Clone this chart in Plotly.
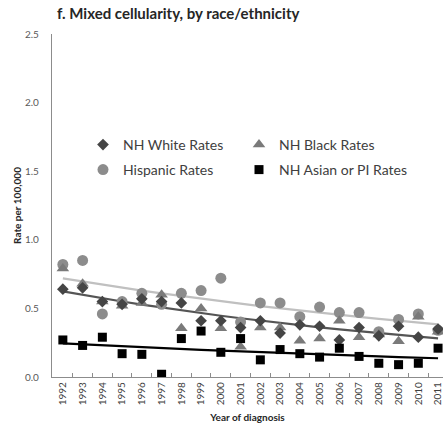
import numpy as np
import plotly.graph_objects as go

years = [str(y) for y in range(1992, 2012)]

white_rates = [0.64, 0.65, 0.55, 0.53, 0.57, 0.55, 0.54, 0.41, 0.41, 0.36,
               0.41, 0.32, 0.38, 0.37, 0.27, 0.36, 0.30, 0.37, 0.29, 0.35]
black_rates = [0.79, 0.68, 0.55, 0.52, 0.54, 0.60, 0.355, 0.50, 0.355, 0.22,
               0.36, 0.36, 0.265, 0.28, 0.41, 0.29, 0.31, 0.26, 0.44, 0.33]
hispanic_rates = [0.82, 0.85, 0.46, 0.55, 0.61, 0.53, 0.61, 0.63, 0.72, 0.40,
                  0.54, 0.54, 0.44, 0.51, 0.47, 0.47, 0.33, 0.42, 0.46, 0.34]
asian_rates = [0.27, 0.23, 0.29, 0.17, 0.165, 0.02, 0.28, 0.335, 0.18, 0.28,
               0.125, 0.20, 0.17, 0.145, 0.21, 0.15, 0.10, 0.09, 0.10, 0.21]


def loglinear_trend(values, n_iter=60):
    """Log-linear (Poisson-type) trend fitted to a rate series by IRLS."""
    y = np.asarray(values, dtype=float)
    x = np.arange(len(y), dtype=float)
    X = np.column_stack([np.ones_like(x), x])
    beta = np.array([np.log(y.mean()), 0.0])
    for _ in range(n_iter):
        eta = X @ beta
        mu = np.exp(eta)
        z = eta + (y - mu) / mu
        W = mu
        beta = np.linalg.solve(X.T @ (W[:, None] * X), X.T @ (W * z))
    return np.exp(X @ beta)


fig = go.Figure()

font_family = "Lato, 'Open Sans', sans-serif"

# fitted trend lines
trend_specs = [
    (hispanic_rates, "#c0c0c0"),
    (white_rates, "#555555"),
    (asian_rates, "#000000"),
]
for vals, col in trend_specs:
    fig.add_trace(go.Scatter(
        x=years, y=loglinear_trend(vals), mode="lines",
        line=dict(color=col, width=2.2), showlegend=False, hoverinfo="skip",
    ))

# (name, values, symbol, colour, size, legend box)
series = [
    ("Hispanic Rates", hispanic_rates, "circle", "#8c8c8c", 11, "legend3"),
    ("NH Black Rates", black_rates, "triangle-up", "#7a7a7a", 11, "legend2"),
    ("NH White Rates", white_rates, "diamond", "#454545", 9, "legend"),
    ("NH Asian or PI Rates", asian_rates, "square", "#000000", 9, "legend4"),
]
for name, vals, sym, col, size, leg in series:
    fig.add_trace(go.Scatter(
        x=years, y=vals, mode="markers", name=name, legend=leg,
        marker=dict(symbol=sym, color=col, size=size, line=dict(width=0)),
    ))

H = 423
plot_left, plot_width = 52, 391
plot_top, plot_bottom = 34, 377


def paper_x(px):
    return (px - plot_left) / plot_width


def paper_y(px):
    return (plot_bottom - px) / (plot_bottom - plot_top)


legend_common = dict(
    orientation="h", xanchor="left", yanchor="middle",
    font=dict(size=14, color="#404040"), bgcolor="rgba(0,0,0,0)",
    itemsizing="trace",
)
col_x = [paper_x(83), paper_x(239)]
row_y = [paper_y(145), paper_y(170)]

fig.update_layout(
    width=443, height=H,
    margin=dict(l=plot_left, r=0, t=plot_top, b=H - plot_bottom),
    paper_bgcolor="white", plot_bgcolor="white",
    font=dict(family=font_family, color="#404040"),
    title=dict(
        text="<b>f. Mixed cellularity, by race/ethnicity</b>",
        x=57 / 443, xanchor="left", y=1 - 14 / H, yanchor="middle",
        font=dict(size=15, color="#262626"),
    ),
    legend=dict(legend_common, x=col_x[0], y=row_y[0]),
    legend2=dict(legend_common, x=col_x[1], y=row_y[0]),
    legend3=dict(legend_common, x=col_x[0], y=row_y[1]),
    legend4=dict(legend_common, x=col_x[1], y=row_y[1]),
    showlegend=True,
)

fig.update_xaxes(
    type="category", range=[-0.55, 19.25],
    showline=True, linecolor="#8c8c8c", linewidth=1.3,
    ticks="inside", tickson="boundaries", ticklen=4, tickcolor="#8c8c8c",
    tickangle=-90, tickfont=dict(size=10, color="#404040"),
    showgrid=False, zeroline=False,
    title=dict(text="<b>Year of diagnosis</b>", font=dict(size=10, color="#262626"), standoff=9),
)
fig.update_yaxes(
    range=[0, 2.5], tickvals=[0, 0.5, 1.0, 1.5, 2.0, 2.5],
    ticktext=["0.0", "0.5", "1.0", "1.5", "2.0", "2.5"],
    showline=True, linecolor="#8c8c8c", linewidth=1.3,
    ticks="", tickfont=dict(size=10, color="#595959"), ticklabelstandoff=10,
    showgrid=False, zeroline=False,
    title=dict(text="<b>Rate per 100,000</b>", font=dict(size=10, color="#262626"), standoff=1),
)

fig.write_html("out.html")
